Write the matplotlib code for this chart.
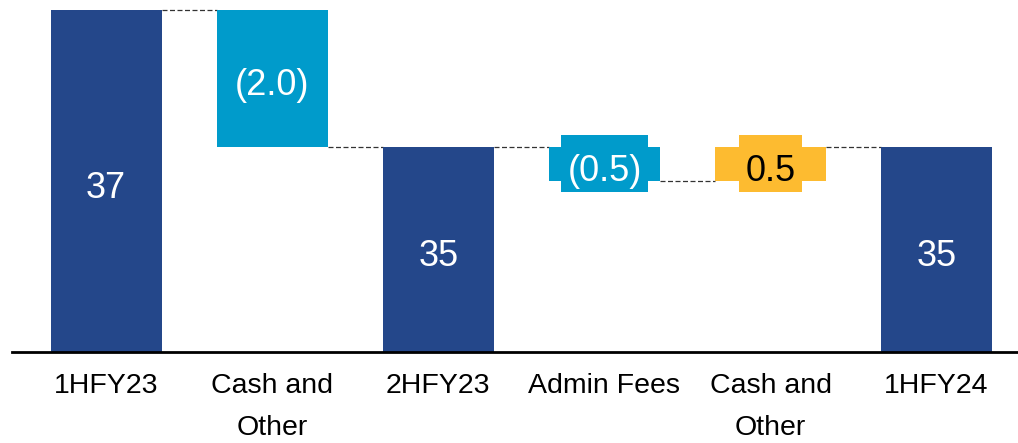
import matplotlib.pyplot as plt
from matplotlib.patches import Rectangle

categories = ['1HFY23', 'Cash and\nOther', '2HFY23', 'Admin Fees', 'Cash and\nOther', '1HFY24']
values = [37, -2.0, 35, -0.5, 0.5, 35]
is_total = [True, False, True, False, False, True]
labels = ['37', '(2.0)', '35', '(0.5)', '0.5', '35']

navy = '#24478A'
cyan = '#009BCB'
gold = '#FDBB30'

plt.rcParams['font.family'] = ['Liberation Sans', 'DejaVu Sans']

fig = plt.figure(figsize=(10.18, 4.43), dpi=100)
ax = fig.add_axes([12 / 1018, 91 / 443, 1006 / 1018, 352 / 443])
y_min = 32
ax.set_ylim(y_min, 37.146)
ax.set_xlim(-0.567, 5.49)

width = 0.67
bottoms, tops, colors = [], [], []
level = 0
for v, tot in zip(values, is_total):
    if tot:
        bottoms.append(y_min)
        tops.append(v)
        level = v
        colors.append(navy)
    else:
        new = level + v
        bottoms.append(min(level, new))
        tops.append(max(level, new))
        level = new
        colors.append(cyan if v < 0 else gold)

texts = []
for i in range(len(values)):
    ax.bar(i, tops[i] - bottoms[i], bottom=bottoms[i], width=width, color=colors[i], zorder=2)
    mid = (tops[i] + bottoms[i]) / 2
    txt_color = 'black' if colors[i] == gold else 'white'
    t = ax.annotate(labels[i], (i, mid), xytext=(0, -12), textcoords='offset points',
                    ha='center', va='baseline', fontsize=26, color=txt_color, zorder=5)
    texts.append(t)

# label backgrounds for the thin bars (wider/taller than the bar itself)
fig.canvas.draw()
for i, t in enumerate(texts):
    if tops[i] - bottoms[i] >= 1:
        continue
    bb = t.get_window_extent()
    mid = (tops[i] + bottoms[i]) / 2
    cy = ax.transData.transform((i, mid))[1]
    rect = Rectangle((bb.x0 - 6.5, cy - 28.5), bb.width + 13, 57, transform=None,
                     facecolor=colors[i], edgecolor='none', zorder=3)
    ax.add_patch(rect)

# connector lines
level = 0
for i in range(len(values) - 1):
    if is_total[i]:
        level = values[i]
    else:
        level = level + values[i]
    ax.plot([i + width / 2, i + 1 - width / 2], [level, level], color='#333333',
            lw=0.9, ls=(0, (4, 2)), zorder=1)

ax.set_ylim(y_min, 37.146)
ax.set_xlim(-0.567, 5.49)
ax.set_xticks(range(len(categories)))
ax.set_xticklabels(categories, fontsize=20.5, linespacing=1.8)
ax.tick_params(axis='x', length=0, pad=15)
ax.set_yticks([])
for s in ['top', 'right', 'left']:
    ax.spines[s].set_visible(False)
ax.spines['bottom'].set_linewidth(2)
ax.spines['bottom'].set_zorder(4)

fig.savefig('out.png', dpi=100)
